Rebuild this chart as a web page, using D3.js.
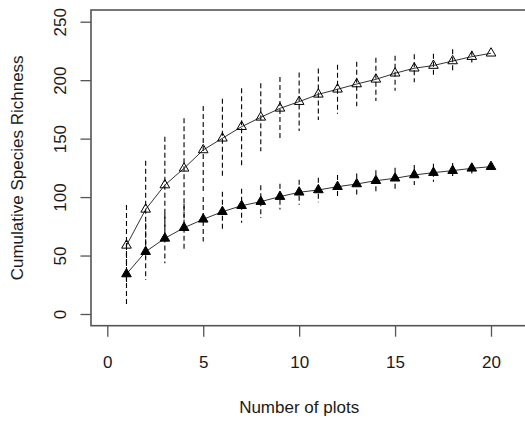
<!DOCTYPE html>
<html>
<head>
<meta charset="utf-8">
<script src="https://cdn.jsdelivr.net/npm/d3@7"></script>
<style>
  html, body { margin: 0; padding: 0; background: #fff; }
  svg { display: block; }
  text { font-family: "Liberation Sans", Arial, sans-serif; fill: #1a1a1a; }
</style>
</head>
<body>
<svg id="chart" width="525" height="426"></svg>
<script>
// ---- data ----
const plots = [1,2,3,4,5,6,7,8,9,10,11,12,13,14,15,16,17,18,19,20];
// open triangles (upper curve)
const richnessA = [58.7, 89.5, 110.3, 124.6, 140.3, 150.3, 160.2, 168.2, 175.9, 181.6, 187.9, 192.2, 196.7, 200.7, 205.9, 210.2, 212.5, 216.4, 220.1, 223.0];
const sdA       = [34.5, 41.5, 41.4, 42.8, 37.6, 33.7, 32.9, 29.1, 26.8, 25.0, 22.0, 21.0, 19.0, 18.5, 15.0, 12.0, 10.0, 10.0, 5.0, 0];
// filled triangles (lower curve)
const richnessB = [34.2, 53.3, 64.7, 73.8, 81.0, 87.5, 92.6, 96.1, 100.4, 104.1, 106.1, 108.9, 111.2, 114.0, 116.1, 118.9, 120.9, 122.6, 124.6, 126.0];
const sdB       = [26.5, 24.3, 21.3, 20.5, 19.0, 17.0, 14.5, 14.0, 11.0, 10.7, 10.5, 10.0, 9.0, 9.0, 9.0, 8.5, 7.7, 6.5, 4.5, 0];
const xTicks = [0, 5, 10, 15, 20];
const yTicks = [0, 50, 100, 150, 200, 250];
const xTitle = "Number of plots";
const yTitle = "Cumulative Species Richness";

// ---- scales ----
const svg = d3.select("#chart");
const x = d3.scaleLinear().domain([0, 20]).range([107.3, 491]);
const y = d3.scaleLinear().domain([0, 250]).range([314, 21.7]);
const boxL = x(-0.85), boxR = x(22.85), boxT = y(260), boxB = y(-10);

const fs = 17;

// ---- axes ----
const gx = svg.append("g").attr("transform", `translate(0,${boxB})`)
  .call(d3.axisBottom(x).tickValues(xTicks).tickSize(11).tickPadding(0).tickFormat(d3.format("d")));
gx.select(".domain").remove();
gx.selectAll(".tick line").attr("stroke", "#555").attr("stroke-width", 1.3);
gx.selectAll(".tick text").attr("y", 36).attr("dy", "0.35em")
  .style("font-size", fs + "px").attr("fill", "#1a1a1a")
  .style("font-family", '"Liberation Sans", Arial, sans-serif');

const gy = svg.append("g").attr("transform", `translate(${boxL},0)`)
  .call(d3.axisLeft(y).tickValues(yTicks).tickSize(10.5).tickPadding(0).tickFormat(d3.format("d")));
gy.select(".domain").remove();
gy.selectAll(".tick line").attr("stroke", "#555").attr("stroke-width", 1.3);
gy.selectAll(".tick text")
  .attr("x", null).attr("y", null).attr("dy", "0.35em")
  .attr("text-anchor", "middle")
  .attr("transform", `translate(${60 - boxL},0) rotate(-90)`)
  .style("font-size", fs + "px").attr("fill", "#1a1a1a")
  .style("font-family", '"Liberation Sans", Arial, sans-serif');

// box
svg.append("rect")
  .attr("x", boxL).attr("y", boxT)
  .attr("width", boxR - boxL).attr("height", boxB - boxT)
  .attr("fill", "none").attr("stroke", "#555").attr("stroke-width", 1.6);

// titles
svg.append("text").text(xTitle)
  .attr("x", (x(0) + x(20)) / 2).attr("y", 407).attr("dy", "0.35em")
  .attr("text-anchor", "middle").style("font-size", fs + "px");
svg.append("text").text(yTitle)
  .attr("transform", `translate(17,${(boxT + boxB) / 2}) rotate(-90)`)
  .attr("dy", "0.35em").attr("text-anchor", "middle").style("font-size", fs + "px");

// ---- series ----
function drawSeries(vals, sds, filled) {
  const data = plots.map((p, i) => ({ p, v: vals[i], s: sds[i] }));
  const g = svg.append("g");
  g.selectAll("line.err").data(data.filter(d => d.s > 0)).join("line")
    .attr("class", "err")
    .attr("x1", d => x(d.p)).attr("x2", d => x(d.p))
    .attr("y1", d => y(d.v + d.s)).attr("y2", d => y(d.v - d.s))
    .attr("stroke", "#000").attr("stroke-width", 1.1)
    .attr("stroke-dasharray", "5,3");
  g.append("path").datum(data)
    .attr("d", d3.line().x(d => x(d.p)).y(d => y(d.v)))
    .attr("fill", "none").attr("stroke", "#333").attr("stroke-width", 1);
  const sym = d3.symbol().type(d3.symbolTriangle).size(40);
  g.selectAll("path.pt").data(data).join("path")
    .attr("class", "pt")
    .attr("transform", d => `translate(${x(d.p)},${y(d.v)})`)
    .attr("d", sym)
    .attr("fill", filled ? "#000" : "none")
    .attr("stroke", "#000").attr("stroke-width", 1);
}
drawSeries(richnessA, sdA, false);
drawSeries(richnessB, sdB, true);
</script>
</body>
</html>
